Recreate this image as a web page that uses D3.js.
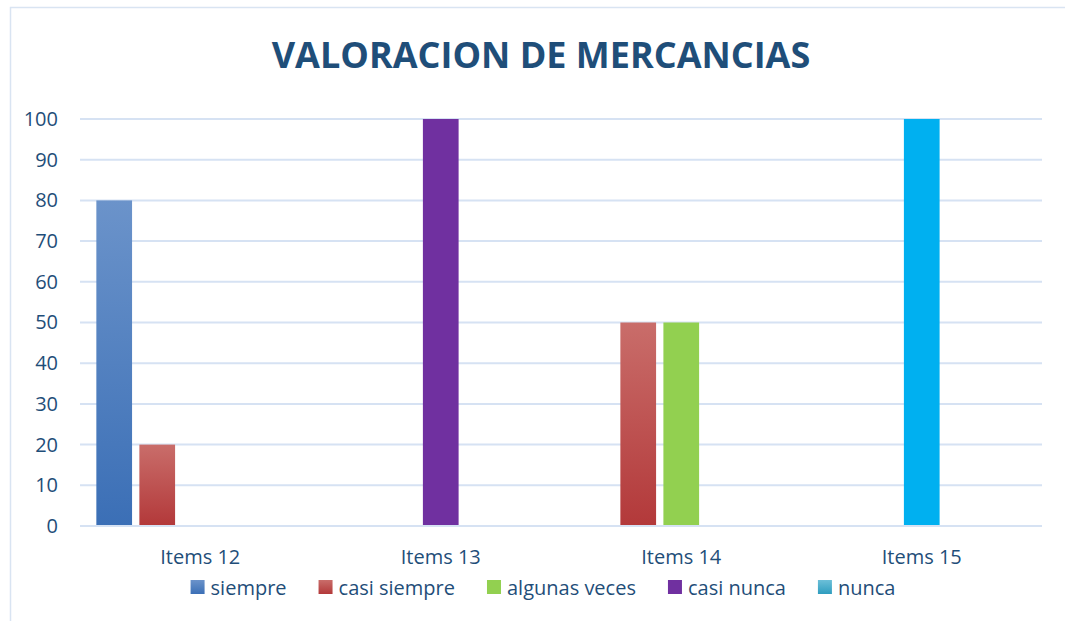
<!DOCTYPE html>
<html>
<head>
<meta charset="utf-8">
<script src="https://cdn.jsdelivr.net/npm/d3@7"></script>
<style>
  body { margin: 0; background: #fff; }
  text { font-family: "Open Sans", Calibri, sans-serif; fill: #1F4E79; }
</style>
</head>
<body>
<svg id="chart"></svg>
<script>
// data
const categories = ['Items 12', 'Items 13', 'Items 14', 'Items 15'];
const seriesNames = ['siempre', 'casi siempre', 'algunas veces', 'casi nunca', 'nunca'];
const siempre      = [80, 0, 0, 0];
const casiSiempre  = [20, 0, 50, 0];
const algunasVeces = [0, 100, 50, 100];
const casiNunca    = [0, 0, 0, 0];
const nunca        = [0, 0, 0, 0];
const yTicks = [0, 10, 20, 30, 40, 50, 60, 70, 80, 90, 100];

const seriesValues = [siempre, casiSiempre, algunasVeces, casiNunca, nunca];

// series colours: [top, bottom] of the vertical gradient
const seriesColors = [
  ['#6B93CA', '#3B6FB6'],
  ['#C96D6A', '#B3393A'],
  ['#92D050', '#92D050'],
  ['#7030A0', '#7030A0'],
  ['#6CBFD8', '#2F9DBF']
];
// points in the "algunas veces" series that were recoloured in the original sheet
const pointFillOverride = { '2-1': '#7030A0', '2-3': '#00B0F0' };

const width = 1065, height = 621;
const margin = { top: 119, right: 23, bottom: 95, left: 80 };

const svg = d3.select('#chart')
  .attr('width', width)
  .attr('height', height);

const defs = svg.append('defs');
seriesColors.forEach((c, i) => {
  const g = defs.append('linearGradient')
    .attr('id', 'grad' + i)
    .attr('x1', 0).attr('y1', 0).attr('x2', 0).attr('y2', 1);
  g.append('stop').attr('offset', '0%').attr('stop-color', c[0]);
  g.append('stop').attr('offset', '100%').attr('stop-color', c[1]);
});

// chart frame (runs off the right/bottom edge like the screenshot)
svg.append('rect')
  .attr('x', 10.5).attr('y', 7.5)
  .attr('width', 1070).attr('height', 630)
  .attr('fill', 'none')
  .attr('stroke', '#D9E4F2')
  .attr('stroke-width', 1.5);

svg.append('text')
  .attr('x', 541)
  .attr('y', 68)
  .attr('text-anchor', 'middle')
  .style('font-size', '36px')
  .style('font-weight', 'bold')
  .text('VALORACION DE MERCANCIAS');

const x0 = d3.scaleBand()
  .domain(categories)
  .range([margin.left, width - margin.right])
  .padding(0);

const x1 = d3.scaleBand()
  .domain(d3.range(seriesNames.length))
  .range([0, x0.bandwidth()])
  .paddingInner(0.17)
  .paddingOuter(0.38);

const y = d3.scaleLinear()
  .domain([0, 100])
  .range([height - margin.bottom, margin.top]);

// gridlines
svg.append('g')
  .selectAll('line')
  .data(yTicks)
  .join('line')
  .attr('x1', margin.left)
  .attr('x2', width - margin.right)
  .attr('y1', d => y(d))
  .attr('y2', d => y(d))
  .attr('stroke', '#D6E2F3')
  .attr('stroke-width', 2);

// y axis labels
const yAxis = svg.append('g')
  .attr('transform', `translate(${margin.left - 22},0)`)
  .call(d3.axisLeft(y).tickValues(yTicks).tickSize(0).tickPadding(0));
yAxis.select('.domain').remove();
yAxis.selectAll('text')
  .style('font-size', '20px')
  .style('font-family', '"Open Sans", sans-serif')
  .attr('fill', '#1F4E79');

// x axis labels
const xAxis = svg.append('g')
  .attr('transform', `translate(0,${height - margin.bottom})`)
  .call(d3.axisBottom(x0).tickSize(0).tickPadding(24));
xAxis.select('.domain').remove();
xAxis.selectAll('text')
  .style('font-size', '20px')
  .style('font-family', '"Open Sans", sans-serif')
  .attr('fill', '#1F4E79');

// bars
const bars = [];
seriesValues.forEach((vals, si) => {
  vals.forEach((v, ci) => {
    if (v > 0) bars.push({ si, ci, value: v, category: categories[ci] });
  });
});

svg.append('g')
  .selectAll('rect')
  .data(bars)
  .join('rect')
  .attr('x', d => x0(d.category) + x1(d.si))
  .attr('y', d => y(d.value))
  .attr('width', x1.bandwidth())
  .attr('height', d => y(0) - y(d.value) - 1)
  .attr('fill', d => pointFillOverride[d.si + '-' + d.ci] || `url(#grad${d.si})`);

// legend
const legend = svg.append('g');
const items = legend.selectAll('g')
  .data(seriesNames)
  .join('g');

items.append('rect')
  .attr('width', 14).attr('height', 14)
  .attr('y', 580)
  .attr('fill', (d, i) => `url(#grad${i})`);

items.append('text')
  .attr('x', 20)
  .attr('y', 595)
  .style('font-size', '20px')
  .text(d => d);

let offset = 0;
const positions = [];
items.each(function () {
  const w = 20 + d3.select(this).select('text').node().getComputedTextLength();
  positions.push(offset);
  offset += w + 32;
});
const legendWidth = offset - 32;
const legendStart = 543 - legendWidth / 2;
items.attr('transform', (d, i) => `translate(${legendStart + positions[i]},0)`);
</script>
</body>
</html>
